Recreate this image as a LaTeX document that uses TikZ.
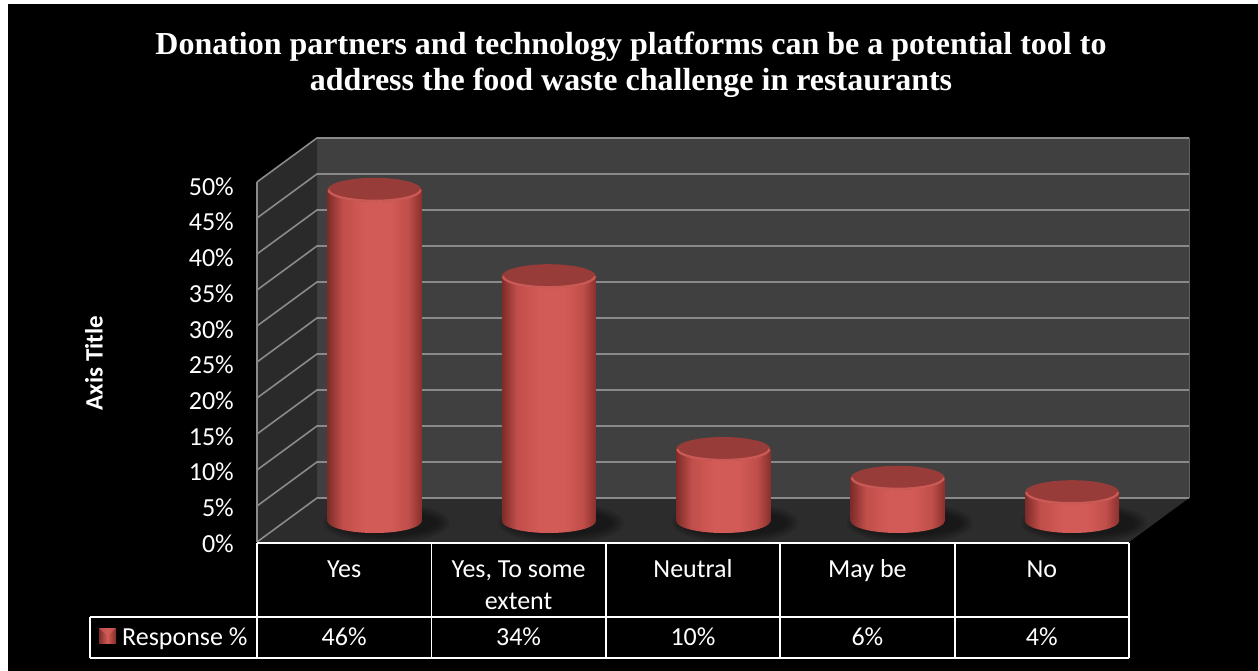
\documentclass[tikz,border=0pt]{standalone}
\usepackage{fontspec}
\setmainfont{Carlito}
\newfontfamily\titlefont{Liberation Serif}
\definecolor{wallback}{HTML}{404040}
\definecolor{wallside}{HTML}{2A2A2A}
\definecolor{floorc}{HTML}{2C2C2C}
\definecolor{gridc}{HTML}{8A8A8A}
\definecolor{bdark}{HTML}{7E2C29}
\definecolor{bmid}{HTML}{C04E4A}
\definecolor{blight}{HTML}{D35B57}
\definecolor{bdark2}{HTML}{8A302D}
\definecolor{btop}{HTML}{973C38}
\definecolor{brim}{HTML}{D9625E}
\pgfdeclarehorizontalshading{barshade}{100bp}{color(0bp)=(bdark); color(25bp)=(bdark); color(33bp)=(bmid); color(45bp)=(blight); color(58bp)=(blight); color(68bp)=(bmid); color(75bp)=(bdark2); color(100bp)=(bdark2)}
\pgfdeclarehorizontalshading{markshade}{100bp}{color(0bp)=(bdark); color(25bp)=(bdark); color(50bp)=(blight); color(75bp)=(bdark); color(100bp)=(bdark)}
\tikzset{
  grid/.style={draw=gridc, line width=1.6pt},
  tline/.style={draw=white, line width=1.8pt},
  ylab/.style={anchor=east, text=white, font=\fontsize{26}{31}\selectfont, inner sep=0pt},
  celltext/.style={anchor=base, text=white, font=\fontsize{26}{31}\selectfont, inner sep=0pt},
  bartop/.style={fill=btop},
  barrim/.style={draw=brim, line width=2.2pt, opacity=0.8},
}
\begin{document}
\begin{tikzpicture}[x=1pt, y=-1pt]
\useasboundingbox (0,0) rectangle (1258,671);
\fill[white] (0,0) rectangle (1258,671);
\fill[black] (8,4) rectangle (1258,671);
% title
\node[text=white, align=center, font=\titlefont\bfseries\fontsize{32}{36}\selectfont, inner sep=0pt] (title) at (631,65)
  {Donation partners and technology platforms can be a potential tool to\\address the food waste challenge in restaurants};
% walls
\fill[wallback] (317,138) rectangle (1189,498);
\fill[wallside] (257,182) -- (317,138) -- (317,498) -- (257,542) -- cycle;
\fill[floorc] (257,542) -- (317,498) -- (1189,498) -- (1129,542) -- cycle;
\foreach \k in {0,...,10} {
  \draw[grid] (257,{542-36*\k}) -- (317,{498-36*\k}) -- (1189,{498-36*\k});
}
\draw[grid] (257,182) -- (257,542);
\draw[draw=gridc!70!black, line width=1pt] (1189,138) -- (1189,498);
% y labels
\foreach \v [count=\k from 0] in {0,5,...,50} {
  \node[ylab] (yl\k) at (234,{543.5-35.7*\k}) {\v\%};
}
% axis title
\node[rotate=90, text=white, font=\bfseries\fontsize{25}{30}\selectfont, inner sep=0pt] (axt) at (94,363) {Axis Title};
% bars
\foreach \v [count=\i from 0] in {46,34,10,6,4} {
  \pgfmathsetmacro\cx{374.5+174.4*\i}
  \pgfmathsetmacro\yt{521-7.2*\v}
  \foreach \s in {1,...,5} {
    \fill[black, opacity=0.1] (\cx+12,523) ellipse[x radius={48+3*\s}, y radius={10+2*\s}];
  }
  \shade[shading=barshade] (\cx-47,\yt) rectangle (\cx+47,521);
  \shade[shading=barshade] (\cx,521) ellipse[x radius=47, y radius=12];
  \fill[bartop] (\cx,\yt) ellipse[x radius=47, y radius=12];
  \draw[barrim] (\cx-46,\yt) arc[start angle=180, end angle=0, x radius=46, y radius=11];
}
% table
\foreach \x in {257,431.4,605.8,780.2,954.6,1129} {
  \draw[tline] (\x,543) -- (\x,658);
}
\draw[tline] (257,543) -- (1129,543);
\draw[tline] (90,617) -- (1129,617);
\draw[tline] (90,658) -- (1129,658);
\draw[tline] (90,617) -- (90,658);
% header texts
\node[celltext] (h1) at (344.2,577) {Yes};
\node[celltext] (h2a) at (518.6,577) {Yes, To some};
\node[celltext] (h2b) at (518.6,609) {extent};
\node[celltext] (h3) at (693,577) {Neutral};
\node[celltext] (h4) at (867.4,577) {May be};
\node[celltext] (h5) at (1041.8,577) {No};
% values
\node[celltext] (v1) at (344.2,645) {46\%};
\node[celltext] (v2) at (518.6,645) {34\%};
\node[celltext] (v3) at (693,645) {10\%};
\node[celltext] (v4) at (867.4,645) {6\%};
\node[celltext] (v5) at (1041.8,645) {4\%};
% legend
\shade[shading=markshade] (99,628) rectangle (116,643);
\fill[blight, opacity=0.7] (99,628) -- (116,628) -- (107.5,636) -- cycle;
\node[celltext, anchor=base west] (leg) at (122,645) {Response \%};
\end{tikzpicture}
\end{document}
